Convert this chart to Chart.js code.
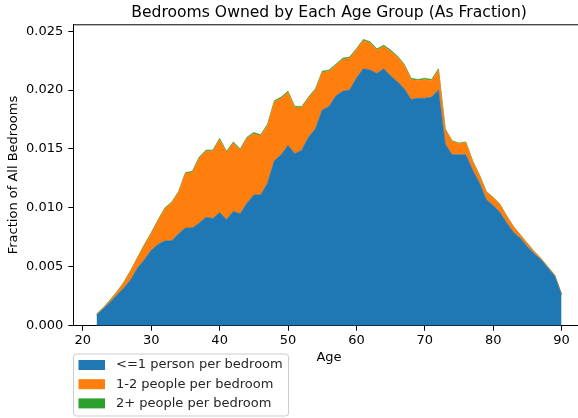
<!DOCTYPE html>
<html>
<head>
<meta charset="utf-8">
<script src="https://cdn.jsdelivr.net/npm/chart.js@4"></script>
<style>
  html, body { margin: 0; padding: 0; background: #fff; overflow: hidden; width: 578px; height: 418px; }
  canvas { display: block; }
</style>
</head>
<body>
<canvas id="chart" width="600" height="418"></canvas>
<script>
// ages on the x axis
const ages = [];
for (let a = 22; a <= 90; a++) ages.push(a);

// fraction of all bedrooms (ages 22..90)
const onePerBedroom = [
  0.0009, 0.00144, 0.0020, 0.0026, 0.0032, 0.0039, 0.0049, 0.0056, 0.0064, 0.0069,
  0.0072, 0.0072, 0.0078, 0.0083, 0.0083, 0.0087, 0.0092, 0.0091, 0.0096, 0.0090,
  0.0097, 0.0095, 0.0104, 0.0111, 0.0111, 0.0121, 0.0140, 0.0145, 0.0153, 0.0146,
  0.0149, 0.0160, 0.0167, 0.0183, 0.0186, 0.0195, 0.0199, 0.0200, 0.0210, 0.0218,
  0.0217, 0.0214, 0.0218, 0.0212, 0.0207, 0.0201, 0.0192, 0.0193, 0.0193, 0.0194,
  0.0200, 0.0154, 0.0145, 0.0145, 0.0145, 0.0132, 0.0121, 0.0107, 0.0102, 0.0096,
  0.0087, 0.0079, 0.0074, 0.0067, 0.0061, 0.0056, 0.0049, 0.0042, 0.0026
];
const oneToTwo = [
  0.00007, 0.00008, 0.00017, 0.00027, 0.00047, 0.00077, 0.00087, 0.00123, 0.00143, 0.00203,
  0.00273, 0.00323, 0.00353, 0.00463, 0.0047, 0.0055, 0.0056, 0.0057, 0.0062, 0.0057,
  0.0058, 0.0054, 0.0055, 0.0052, 0.0050, 0.0049, 0.0050, 0.0048, 0.0045, 0.0039,
  0.0036, 0.0033, 0.0033, 0.0032, 0.0030, 0.0026, 0.0027, 0.0027, 0.0024, 0.0024,
  0.0023, 0.0020, 0.0019, 0.0021, 0.0021, 0.0020, 0.0017, 0.0015, 0.0016, 0.0014,
  0.0017, 0.00125, 0.00115, 0.00095, 0.00105, 0.00075, 0.00065, 0.00065, 0.00065, 0.00068,
  0.00058, 0.00048, 0.00028, 0.00028, 0.00018, 0.00008, 0.00008, 0.00008, 0.00008
];
const twoPlus = [
  0.00003, 0.00003, 0.00003, 0.00003, 0.00003, 0.00003, 0.00003, 0.00007, 0.00007, 0.00007,
  0.00007, 0.00007, 0.00007, 0.00007, 0.0001, 0.0001, 0.0001, 0.0001, 0.0001, 0.0001,
  0.0001, 0.0001, 0.0001, 0.0001, 0.0001, 0.0001, 0.0001, 0.0001, 0.0001, 0.0001,
  0.0001, 0.0001, 0.0001, 0.0001, 0.0001, 0.0001, 0.0001, 0.0001, 0.0001, 0.0001,
  0.0001, 0.0001, 0.0001, 0.0001, 0.0001, 0.0001, 0.0001, 0.0001, 0.0001, 0.0001,
  0.0001, 0.00005, 0.00005, 0.00005, 0.00005, 0.00005, 0.00005, 0.00005, 0.00005, 0.00002,
  0.00002, 0.00002, 0.00002, 0.00002, 0.00002, 0.00002, 0.00002, 0.00002, 0.00002
];

const seriesNames = ['<=1 person per bedroom', '1-2 people per bedroom', '2+ people per bedroom'];
const seriesColors = ['#1f77b4', '#ff7f0e', '#2ca02c'];
const xTicks = [20, 30, 40, 50, 60, 70, 80, 90];
const yTicks = [0, 0.005, 0.010, 0.015, 0.020, 0.025];

const FONT = 'DejaVu Sans';

function toPoints(vals) {
  return vals.map((v, i) => ({ x: ages[i], y: v }));
}

// title, top/right spines and the legend box underneath, drawn by hand
const extras = {
  id: 'extras',
  afterDraw(chart) {
    const ctx = chart.ctx;
    const area = chart.chartArea;
    ctx.save();
    ctx.strokeStyle = '#000';
    ctx.lineWidth = 1;
    ctx.beginPath();
    ctx.moveTo(area.left, area.top + 0.5);
    ctx.lineTo(area.right, area.top + 0.5);
    ctx.lineTo(area.right - 0.5, area.bottom);
    ctx.stroke();

    ctx.fillStyle = '#000';
    ctx.font = '15.6px "' + FONT + '"';
    ctx.textAlign = 'center';
    ctx.textBaseline = 'alphabetic';
    ctx.fillText('Bedrooms Owned by Each Age Group (As Fraction)', (area.left + area.right) / 2, 16.7);

    // legend
    const bx = 73.5, by = 354, bw = 215, bh = 62, r = 3;
    ctx.beginPath();
    ctx.moveTo(bx + r, by);
    ctx.lineTo(bx + bw - r, by);
    ctx.arcTo(bx + bw, by, bx + bw, by + r, r);
    ctx.lineTo(bx + bw, by + bh - r);
    ctx.arcTo(bx + bw, by + bh, bx + bw - r, by + bh, r);
    ctx.lineTo(bx + r, by + bh);
    ctx.arcTo(bx, by + bh, bx, by + bh - r, r);
    ctx.lineTo(bx, by + r);
    ctx.arcTo(bx, by, bx + r, by, r);
    ctx.closePath();
    ctx.fillStyle = 'rgba(255,255,255,0.8)';
    ctx.fill();
    ctx.strokeStyle = '#cccccc';
    ctx.stroke();

    ctx.font = '13px "' + FONT + '"';
    ctx.textAlign = 'left';
    ctx.textBaseline = 'middle';
    seriesNames.forEach((name, i) => {
      const cy = 365 + i * 19.2;
      ctx.fillStyle = seriesColors[i];
      ctx.fillRect(78.5, cy - 5, 26.5, 10);
      ctx.fillStyle = '#262626';
      ctx.fillText(name, 116, cy);
    });
    ctx.restore();
  }
};

new Chart(document.getElementById('chart'), {
  type: 'line',
  data: {
    datasets: [onePerBedroom, oneToTwo, twoPlus].map((vals, i) => ({
      label: seriesNames[i],
      data: toPoints(vals),
      backgroundColor: seriesColors[i],
      borderColor: seriesColors[i],
      borderWidth: 0.6,
      pointRadius: 0,
      tension: 0,
      fill: i === 0 ? 'origin' : '-1'
    }))
  },
  options: {
    responsive: false,
    animation: false,
    devicePixelRatio: 1,
    layout: { padding: { left: 0, right: 15.2, top: 24.3, bottom: 50 } },
    plugins: {
      legend: { display: false },
      title: { display: false },
      tooltip: { enabled: false }
    },
    scales: {
      x: {
        type: 'linear',
        min: 18.6,
        max: 93.4,
        afterBuildTicks: s => { s.ticks = xTicks.map(v => ({ value: v })); },
        afterFit: s => { s.height = 42.3; },
        grid: { display: true, drawOnChartArea: false, drawTicks: true, tickLength: 5, color: '#000' },
        border: { display: true, color: '#000', width: 1 },
        ticks: { color: '#000', font: { family: FONT, size: 13 }, padding: 2, maxRotation: 0 },
        title: { display: true, text: 'Age', color: '#000', font: { family: FONT, size: 13 }, padding: { top: 0, bottom: 3 } }
      },
      y: {
        stacked: true,
        min: 0,
        max: 0.02558,
        afterBuildTicks: s => { s.ticks = yTicks.map(v => ({ value: v })); },
        afterFit: s => { s.width = 73.3; },
        grid: { display: true, drawOnChartArea: false, drawTicks: true, tickLength: 5, color: '#000' },
        border: { display: true, color: '#000', width: 1 },
        ticks: { color: '#000', font: { family: FONT, size: 13 }, padding: 5, callback: v => v.toFixed(3) },
        title: { display: true, text: 'Fraction of All Bedrooms', color: '#000', font: { family: FONT, size: 13 }, padding: { top: 6, bottom: 0 } }
      }
    }
  },
  plugins: [extras]
});
</script>
</body>
</html>
